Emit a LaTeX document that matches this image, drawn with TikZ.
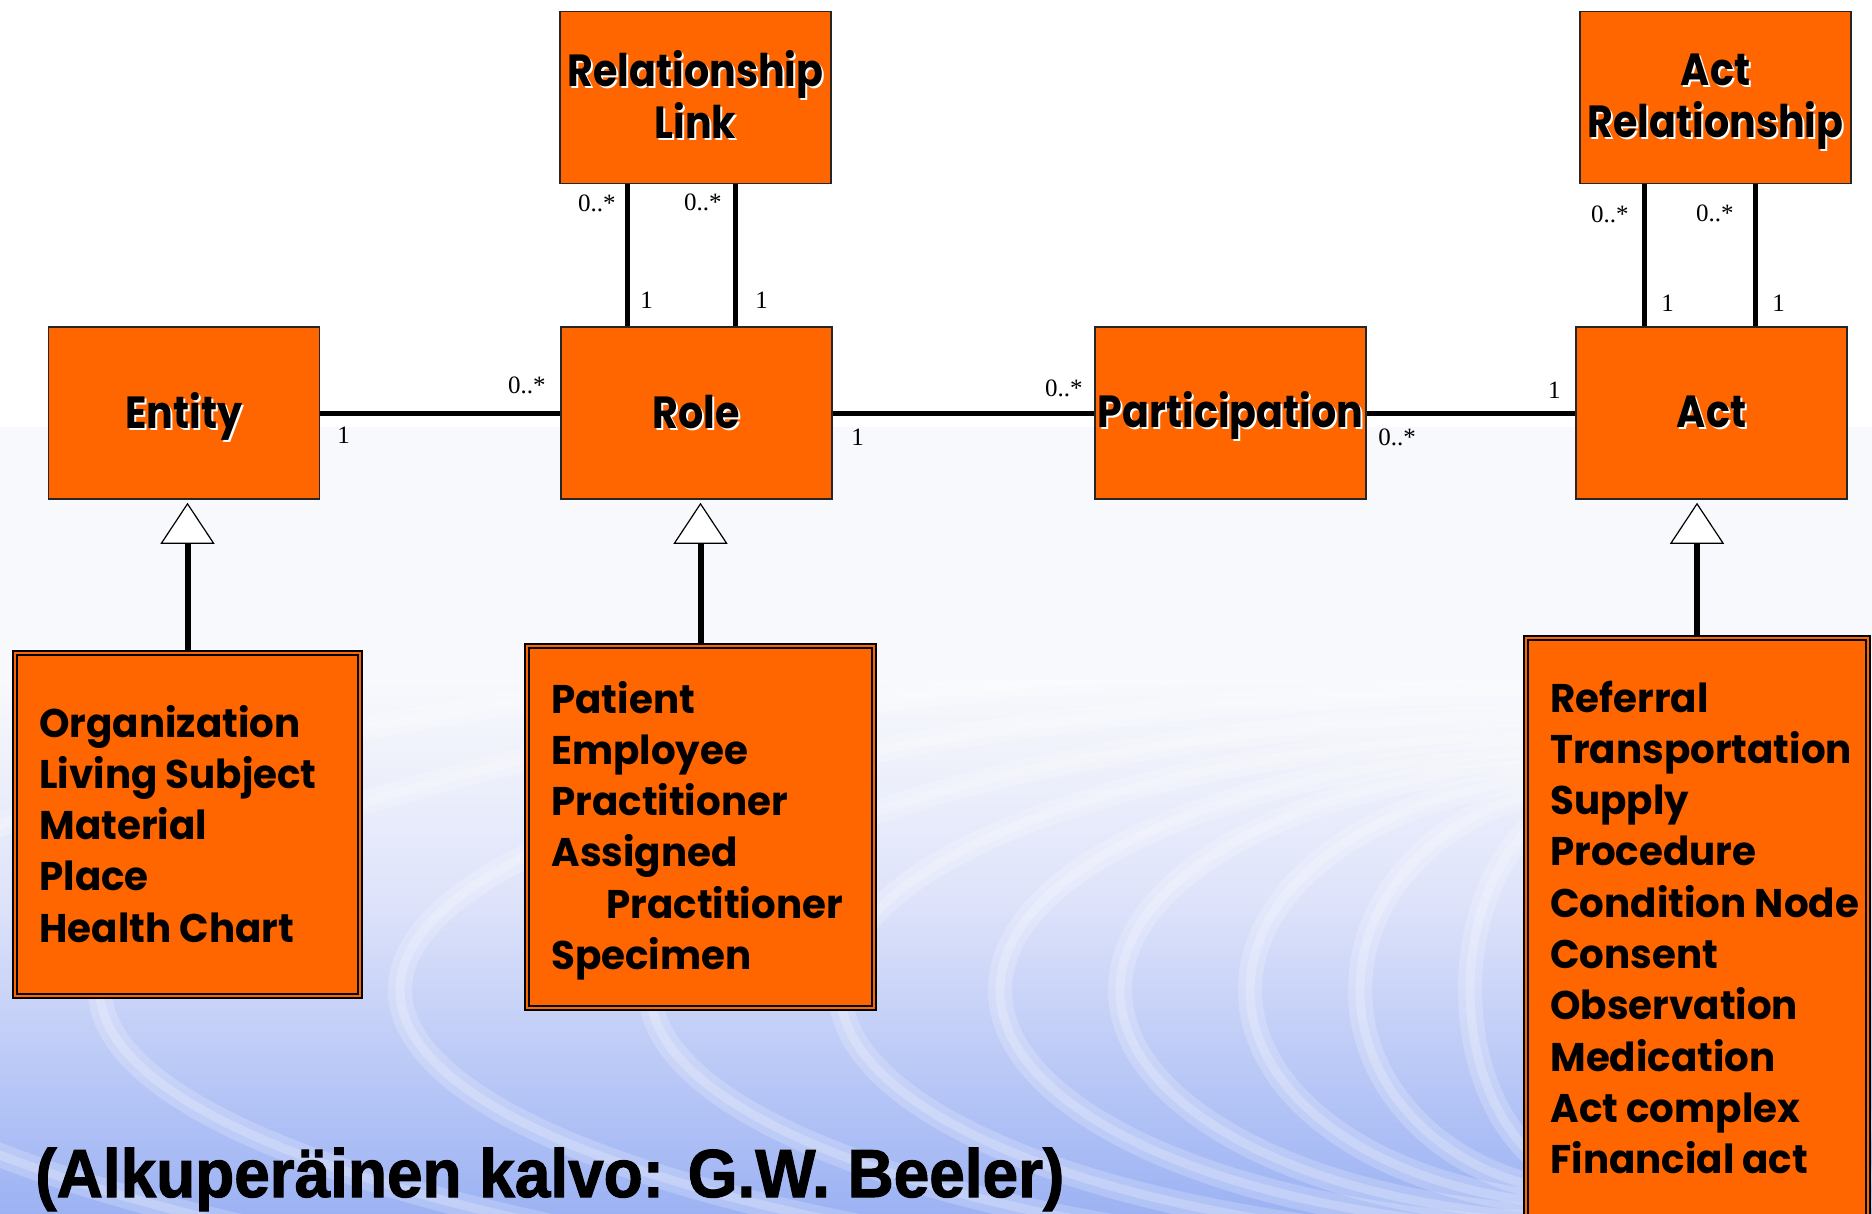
\documentclass[tikz,border=0pt]{standalone}
\usepackage{fontspec}
\setmainfont{Liberation Serif}
\newfontfamily\titlefont{Poppins}[FakeStretch=0.88]
\newfontfamily\itemfont{Poppins}[FakeStretch=0.97]
\newfontfamily\notefont{Liberation Sans}[FakeStretch=0.94,FakeBold=1.6]
\usetikzlibrary{arrows.meta,calc}

\definecolor{boxorange}{HTML}{FF6600}
\definecolor{bgpale}{HTML}{F8F9FC}
\definecolor{bgmid}{HTML}{DEE3FA}
\definecolor{bgblue}{HTML}{9CB2F3}

\tikzset{
  classbox/.style={draw=black!85, line width=0.75pt, fill=boxorange,
    minimum width=135.5pt, minimum height=86pt, inner sep=0pt},
  subbox/.style={draw=black, line width=1pt, double=boxorange,
    double distance=1.2pt, fill=boxorange, inner sep=0pt},
  headtext/.style={font=\titlefont\bfseries\fontsize{22.5}{25}\selectfont,
    inner sep=0pt, anchor=base},
  listtext/.style={font=\itemfont\bfseries\fontsize{20}{25.65}\selectfont,
    inner sep=0pt, anchor=base west},
  mult/.style={font=\fontsize{12.5}{14}\selectfont, inner sep=0pt},
  assoc/.style={line width=2.5pt},
  inherit/.style={line width=3pt, shorten >=1.5pt,
    -{Triangle[width=27pt,length=20.5pt,fill=white,line width=0.6pt]}},
  ripple/.style={white, opacity=0.2, line width=12pt},
  ripplecore/.style={white, opacity=0.22, line width=4.5pt},
}

% title with a white drop shadow
\newcommand\classtitle[3]{%
  \node[headtext,text=white] (#1-sh) at ($#2+(2,2)$) {#3};
  \node[headtext] (#1) at #2 {#3};}

\begin{document}
\begin{tikzpicture}[x=0.5pt,y=-0.5pt]
\useasboundingbox (0,0) rectangle (1872,1214);

% background: white top, pale band, blue water with ripples
\fill[white] (0,0) rectangle (1872,1214);
\fill[bgpale] (0,427) rectangle (1872,1214);
\shade[top color=bgpale, bottom color=bgmid] (0,680) rectangle (1872,901);
\shade[top color=bgmid, bottom color=bgblue] (0,900) rectangle (1872,1214);
\begin{scope}
  \clip (0,680) rectangle (1872,1214);
  \foreach \r in {130,240,350,480,600,760,950,1200,1500,1800}{
    \draw[ripple] (1600,990) ellipse [x radius=\r, y radius=0.1*\r+180];
    \draw[ripplecore] (1600,990) ellipse [x radius=\r, y radius=0.1*\r+180];
  }
\end{scope}

% class boxes
\node[classbox] (entity)  at (184,413) {};
\node[classbox] (role)    at (696.5,413) {};
\node[classbox] (part)    at (1230.5,413) {};
\node[classbox] (act)     at (1711.5,413) {};
\node[classbox] (rellink) at (695.5,97.5) {};
\node[classbox] (actrel)  at (1715.5,97.5) {};

\classtitle{entity-t}{(184,428)}{Entity}
\classtitle{role-t}{(696.5,428)}{Role}
\classtitle{part-t}{(1230.5,427)}{Participation}
\classtitle{act-t}{(1711.5,427)}{Act}
\classtitle{rellink-t}{(695.5,87)}{\begin{tabular}[t]{@{}c@{}}Relationship\\Link\end{tabular}}
\classtitle{actrel-t}{(1715.5,86)}{\begin{tabular}[t]{@{}c@{}}Act\\Relationship\end{tabular}}

% associations
\draw[assoc] (entity.east) -- (role.west);
\draw[assoc] (role.east) -- (part.west);
\draw[assoc] (part.east) -- (act.west);

\coordinate (rl-a) at ($(rellink.south)+(-68,0)$);
\coordinate (rl-b) at ($(rellink.south)+(39.5,0)$);
\coordinate (ar-a) at ($(actrel.south)+(-71.5,0)$);
\coordinate (ar-b) at ($(actrel.south)+(39.5,0)$);
\draw[assoc] (rl-a) -- (rl-a |- role.north);
\draw[assoc] (rl-b) -- (rl-b |- role.north);
\draw[assoc] (ar-a) -- (ar-a |- act.north);
\draw[assoc] (ar-b) -- (ar-b |- act.north);

% multiplicities
\node[mult, anchor=base west] (m-e1)  at (337,443)  {1};
\node[mult, anchor=base east] (m-r0)  at (546,393)  {0..*};
\node[mult, anchor=base west] (m-r1)  at (851,445)  {1};
\node[mult, anchor=base east] (m-p0a) at (1083,396) {0..*};
\node[mult, anchor=base west] (m-p0b) at (1378,445) {0..*};
\node[mult, anchor=base east] (m-a1)  at (1561,398) {1};
\node[mult, anchor=base east] (m-rl0a) at (616,212) {0..*};
\node[mult, anchor=base east] (m-rl0b) at (722,211) {0..*};
\node[mult, anchor=base west] (m-rl1a) at (640,308) {1};
\node[mult, anchor=base west] (m-rl1b) at (755,308) {1};
\node[mult, anchor=base east] (m-ar0a) at (1629,223) {0..*};
\node[mult, anchor=base east] (m-ar0b) at (1734,221) {0..*};
\node[mult, anchor=base west] (m-ar1a) at (1661,311) {1};
\node[mult, anchor=base west] (m-ar1b) at (1772,311) {1};

% specialisation boxes
\node[subbox, minimum width=172.3pt, minimum height=171.5pt] (entity-sub) at (187.5,824.3) {};
\node[subbox, minimum width=173.3pt, minimum height=180.8pt] (role-sub) at (700.5,827) {};
\node[subbox, minimum width=170.8pt, minimum height=299.3pt] (act-sub) at (1697,937.5) {};

\node[listtext] (entity-list) at (39,737)
  {\begin{tabular}[t]{@{}l@{}}Organization\\Living Subject\\Material\\Place\\Health Chart\end{tabular}};
\node[listtext] (role-list) at (551,713)
  {\begin{tabular}[t]{@{}l@{}}Patient\\Employee\\Practitioner\\Assigned\\\hspace*{27.5pt}Practitioner\\Specimen\end{tabular}};
\node[listtext] (act-list) at (1550,712)
  {\begin{tabular}[t]{@{}l@{}}Referral\\Transportation\\Supply\\Procedure\\Condition Node\\Consent\\Observation\\Medication\\Act complex\\Financial act\end{tabular}};

% generalisation arrows
\draw[inherit] (entity-sub.north) -- (entity-sub.north |- entity.south);
\draw[inherit] (role-sub.north) -- (role-sub.north |- role.south);
\draw[inherit] (act-sub.north) -- (act-sub.north |- act.south);

% credit line
\node[anchor=base west, inner sep=0pt,
      font=\notefont\bfseries\fontsize{34}{36}\selectfont] (credit) at (35,1197)
  {(Alkuperäinen kalvo: G.W. Beeler)};
\end{tikzpicture}
\end{document}
